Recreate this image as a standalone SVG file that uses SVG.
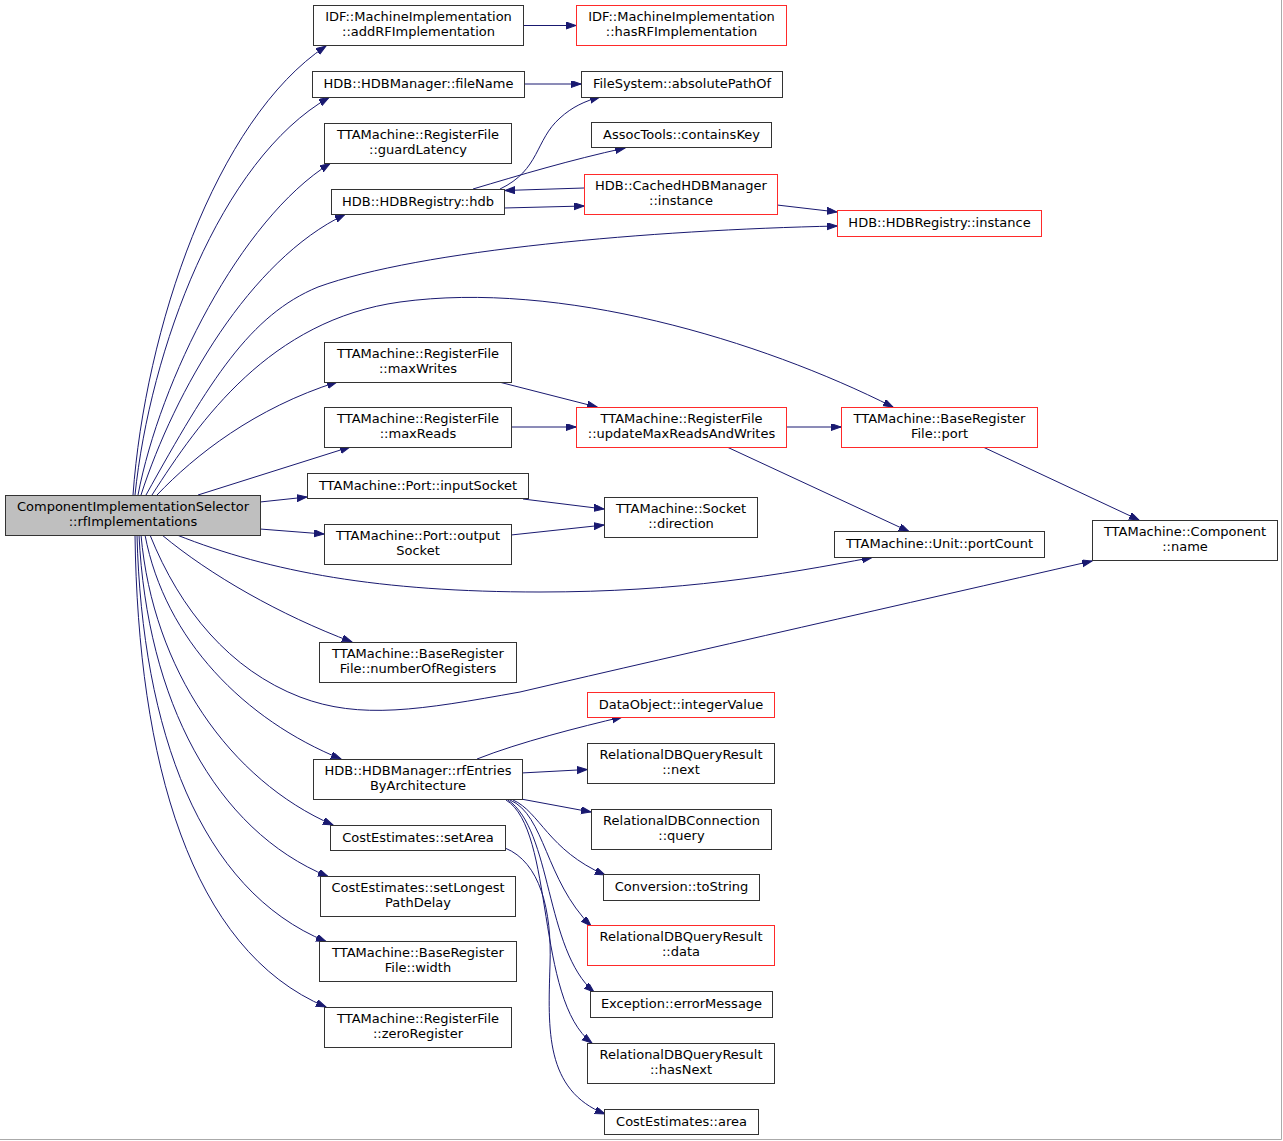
<svg xmlns="http://www.w3.org/2000/svg" width="1283" height="1141" viewBox="0 0 1283 1141">
<style>
.n rect{fill:#ffffff;stroke:#333333;stroke-width:1}
.n.r rect{stroke:#ff2a2a}
.n.m rect{fill:#bfbfbf}
.n text{font-family:"DejaVu Sans","Liberation Sans",sans-serif;font-size:13px;fill:#000;text-anchor:middle}
.e path{fill:none;stroke:#191970;stroke-width:1;marker-end:url(#a)}
</style>
<defs>
<marker id="a" markerWidth="11" markerHeight="8" refX="10" refY="3.5" orient="auto" markerUnits="userSpaceOnUse">
<path d="M0,0 L10,3.5 L0,7 z" fill="#191970" stroke="#191970" stroke-width="1"/>
</marker>
</defs>
<rect x="0" y="0" width="1283" height="1141" fill="#ffffff"/>
<path d="M0,1139.5 H1281.5 V0" fill="none" stroke="#aaaaaa" stroke-width="1"/>

<g id="edges" class="e">
<path d="M133,495 C145,330 215,120 326,46"/>
<path d="M135,495 C150,350 220,160 329,97.5"/>
<path d="M138,495 C160,380 240,220 330,163.5"/>
<path d="M141,495 C175,390 250,260 345,214.5"/>
<path d="M146,495 C210,380 250,315 318,287 C420,250 650,230 837,226"/>
<path d="M152,495 C200,420 270,320 400,302 C560,280 760,340 893,407"/>
<path d="M157,495 C195,455 255,408 337,382"/>
<path d="M198,495 L350,447"/>
<path d="M260,502 L307,497"/>
<path d="M260,529 L324,534"/>
<path d="M177,535 C270,572 380,592 540,592 C680,592 780,575 872,557.5"/>
<path d="M162,535 C210,575 280,615 352,642"/>
<path d="M150,535 C180,610 230,670 300,697 C360,720 420,710 520,692 C700,650 900,605 1092,561"/>
<path d="M145,535 C165,640 245,720 341,759"/>
<path d="M141,535 C153,670 230,780 333,825"/>
<path d="M139,535 C147,700 215,830 328,876.5"/>
<path d="M137,535 C142,730 200,890 326,941.5"/>
<path d="M135,535 C138,760 190,950 326,1007"/>
<path d="M523,25.5 L576,25.5"/>
<path d="M524,84 L581,84"/>
<path d="M473,189 C520,175 570,160 625,148"/>
<path d="M500,189 C540,170 535,140 560,118 C572,107 585,101 600,97"/>
<path d="M584,188 L505,190.5"/>
<path d="M504,208 L584,206"/>
<path d="M777,205 L837,212"/>
<path d="M499,382 L597,407"/>
<path d="M511,427 L576,427"/>
<path d="M786,427 L841,427"/>
<path d="M727,447 L909,531.5"/>
<path d="M983,447 L1139,520"/>
<path d="M523,499 L604,509"/>
<path d="M511,535 L604,525"/>
<path d="M477,759 C520,742 580,727 622,717"/>
<path d="M521,773 L587,769.5"/>
<path d="M521,799 L591,812"/>
<path d="M513,800 C540,812 548,850 605,875"/>
<path d="M510,800 C545,815 545,880 591,926"/>
<path d="M508,800 C552,830 545,950 594,992"/>
<path d="M506,800 C555,830 535,1000 592,1043"/>
<path d="M505,848 C540,862 552,910 550,965 C548,1030 545,1090 605,1114"/>
</g>

<g id="main" class="n m"><rect x="5.5" y="495.5" width="255" height="40"/><text x="133" y="511">ComponentImplementationSelector</text><text x="133" y="526">::rfImplementations</text></g>
<g id="addRF" class="n"><rect x="313.5" y="5.5" width="210" height="40"/><text x="418.5" y="21">IDF::MachineImplementation</text><text x="418.5" y="36">::addRFImplementation</text></g>
<g id="hasRF" class="n r"><rect x="576.5" y="5.5" width="210" height="40"/><text x="681.5" y="21">IDF::MachineImplementation</text><text x="681.5" y="36">::hasRFImplementation</text></g>
<g id="fileName" class="n"><rect x="312.5" y="71.5" width="212" height="26"/><text x="418.5" y="88">HDB::HDBManager::fileName</text></g>
<g id="absolutePathOf" class="n"><rect x="581.5" y="71.5" width="201" height="26"/><text x="682" y="88">FileSystem::absolutePathOf</text></g>
<g id="guardLatency" class="n"><rect x="324.5" y="123.5" width="187" height="40"/><text x="418" y="139">TTAMachine::RegisterFile</text><text x="418" y="154">::guardLatency</text></g>
<g id="containsKey" class="n"><rect x="591.5" y="122.5" width="180" height="25"/><text x="681.5" y="139">AssocTools::containsKey</text></g>
<g id="hdb" class="n"><rect x="331.5" y="189.5" width="173" height="25"/><text x="418" y="206">HDB::HDBRegistry::hdb</text></g>
<g id="cachedInstance" class="n r"><rect x="584.5" y="174.5" width="193" height="40"/><text x="681" y="190">HDB::CachedHDBManager</text><text x="681" y="205">::instance</text></g>
<g id="registryInstance" class="n r"><rect x="837.5" y="210.5" width="204" height="26"/><text x="939.5" y="227">HDB::HDBRegistry::instance</text></g>
<g id="maxWrites" class="n"><rect x="324.5" y="342.5" width="187" height="40"/><text x="418" y="358">TTAMachine::RegisterFile</text><text x="418" y="373">::maxWrites</text></g>
<g id="maxReads" class="n"><rect x="324.5" y="407.5" width="187" height="40"/><text x="418" y="423">TTAMachine::RegisterFile</text><text x="418" y="438">::maxReads</text></g>
<g id="updateMax" class="n r"><rect x="576.5" y="407.5" width="210" height="40"/><text x="681.5" y="423">TTAMachine::RegisterFile</text><text x="681.5" y="438">::updateMaxReadsAndWrites</text></g>
<g id="port" class="n r"><rect x="841.5" y="407.5" width="196" height="40"/><text x="939.5" y="423">TTAMachine::BaseRegister</text><text x="939.5" y="438">File::port</text></g>
<g id="inputSocket" class="n"><rect x="307.5" y="473.5" width="221" height="25"/><text x="418" y="490">TTAMachine::Port::inputSocket</text></g>
<g id="outputSocket" class="n"><rect x="324.5" y="524.5" width="187" height="40"/><text x="418" y="540">TTAMachine::Port::output</text><text x="418" y="555">Socket</text></g>
<g id="direction" class="n"><rect x="604.5" y="497.5" width="153" height="40"/><text x="681" y="513">TTAMachine::Socket</text><text x="681" y="528">::direction</text></g>
<g id="portCount" class="n"><rect x="834.5" y="531.5" width="210" height="26"/><text x="939.5" y="548">TTAMachine::Unit::portCount</text></g>
<g id="componentName" class="n"><rect x="1092.5" y="520.5" width="185" height="40"/><text x="1185" y="536">TTAMachine::Component</text><text x="1185" y="551">::name</text></g>
<g id="numberOfRegisters" class="n"><rect x="319.5" y="642.5" width="197" height="40"/><text x="418" y="658">TTAMachine::BaseRegister</text><text x="418" y="673">File::numberOfRegisters</text></g>
<g id="rfEntries" class="n"><rect x="313.5" y="759.5" width="209" height="40"/><text x="418" y="775">HDB::HDBManager::rfEntries</text><text x="418" y="790">ByArchitecture</text></g>
<g id="integerValue" class="n r"><rect x="587.5" y="692.5" width="187" height="25"/><text x="681" y="709">DataObject::integerValue</text></g>
<g id="next" class="n"><rect x="587.5" y="743.5" width="187" height="40"/><text x="681" y="759">RelationalDBQueryResult</text><text x="681" y="774">::next</text></g>
<g id="setArea" class="n"><rect x="330.5" y="825.5" width="175" height="25"/><text x="418" y="842">CostEstimates::setArea</text></g>
<g id="query" class="n"><rect x="591.5" y="809.5" width="180" height="40"/><text x="681.5" y="825">RelationalDBConnection</text><text x="681.5" y="840">::query</text></g>
<g id="toString" class="n"><rect x="603.5" y="874.5" width="156" height="26"/><text x="681.5" y="891">Conversion::toString</text></g>
<g id="setLongest" class="n"><rect x="320.5" y="876.5" width="195" height="40"/><text x="418" y="892">CostEstimates::setLongest</text><text x="418" y="907">PathDelay</text></g>
<g id="data" class="n r"><rect x="587.5" y="925.5" width="187" height="40"/><text x="681" y="941">RelationalDBQueryResult</text><text x="681" y="956">::data</text></g>
<g id="width" class="n"><rect x="319.5" y="941.5" width="197" height="40"/><text x="418" y="957">TTAMachine::BaseRegister</text><text x="418" y="972">File::width</text></g>
<g id="errorMessage" class="n"><rect x="590.5" y="991.5" width="182" height="26"/><text x="681.5" y="1008">Exception::errorMessage</text></g>
<g id="zeroRegister" class="n"><rect x="324.5" y="1007.5" width="187" height="40"/><text x="418" y="1023">TTAMachine::RegisterFile</text><text x="418" y="1038">::zeroRegister</text></g>
<g id="hasNext" class="n"><rect x="587.5" y="1043.5" width="187" height="40"/><text x="681" y="1059">RelationalDBQueryResult</text><text x="681" y="1074">::hasNext</text></g>
<g id="area" class="n"><rect x="604.5" y="1109.5" width="154" height="25"/><text x="681.5" y="1126">CostEstimates::area</text></g>
</svg>
